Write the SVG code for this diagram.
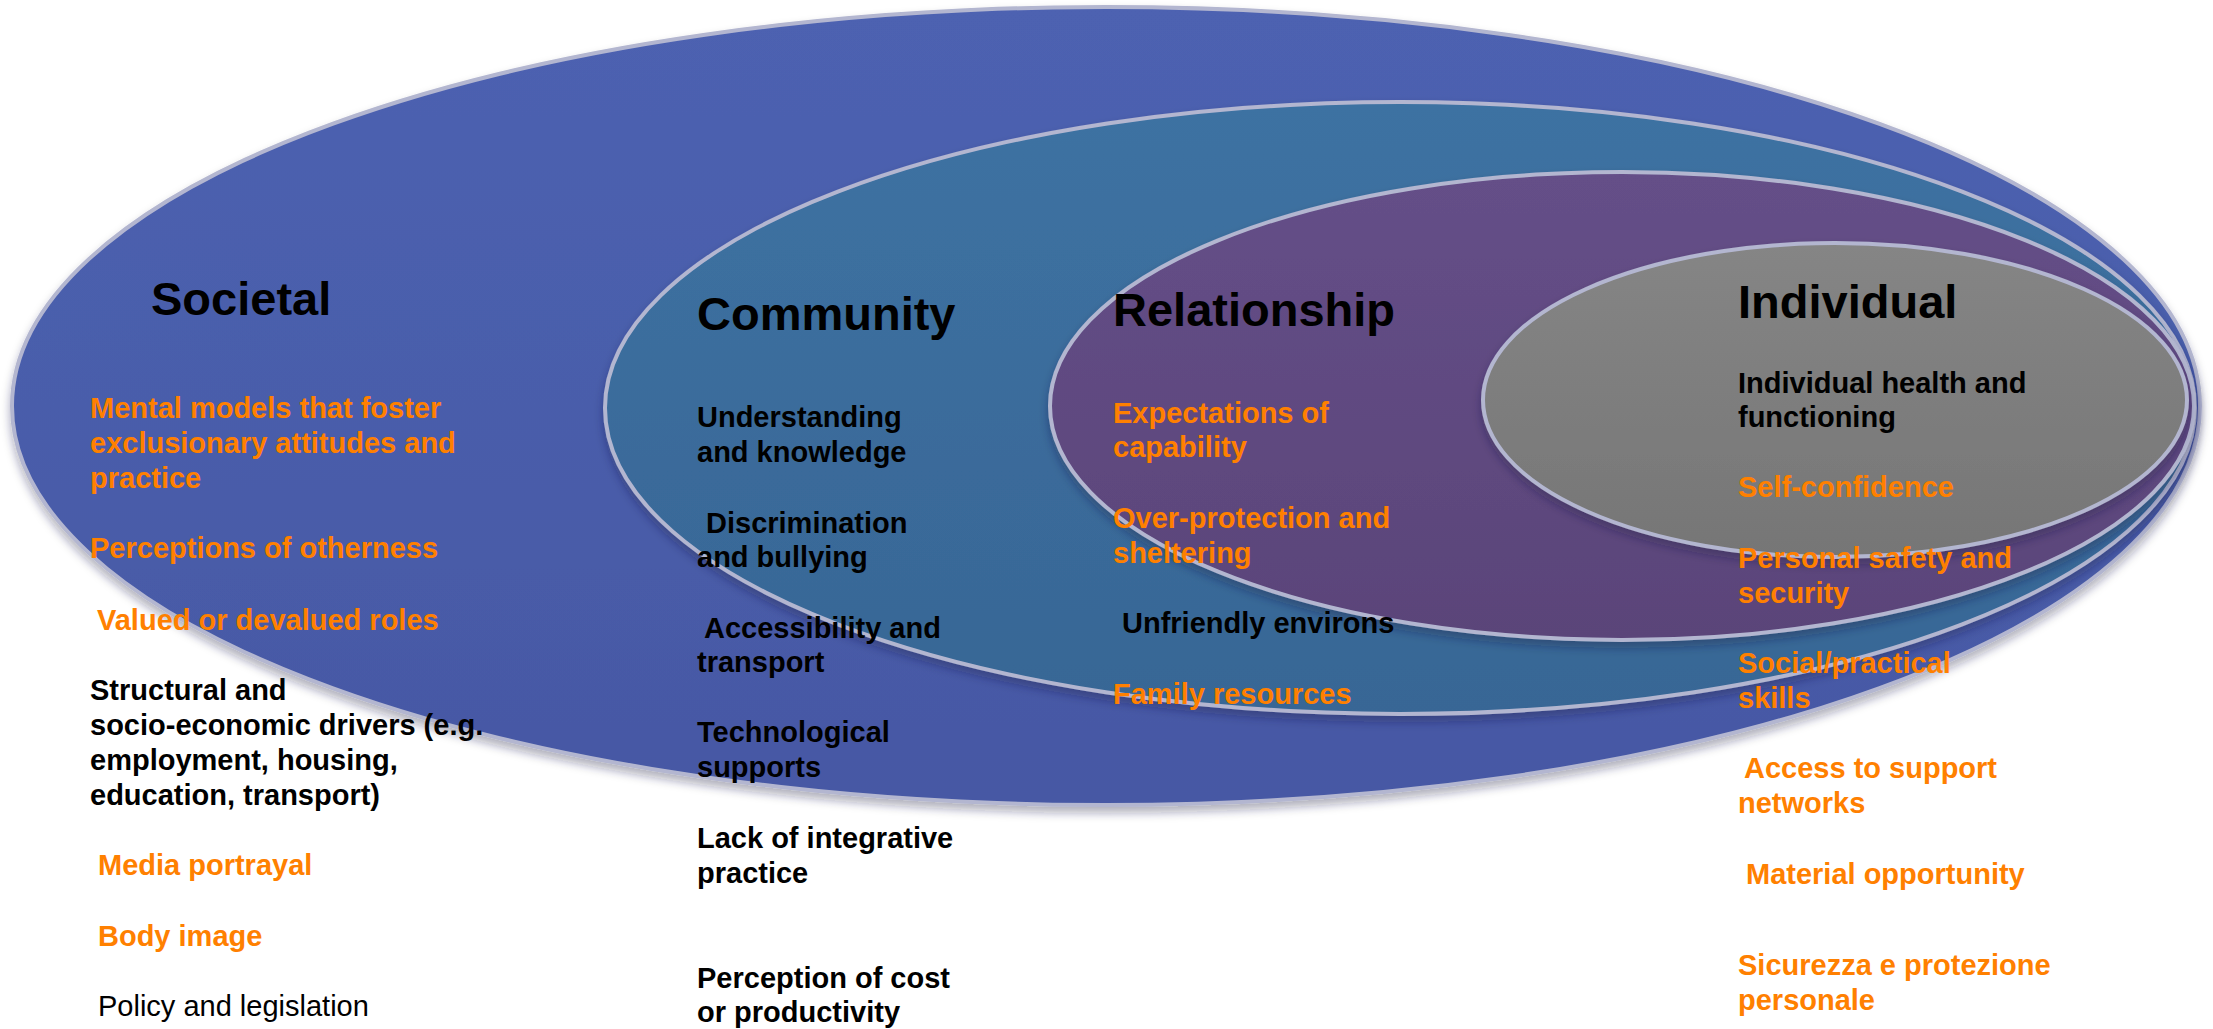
<svg xmlns="http://www.w3.org/2000/svg" width="2213" height="1029" viewBox="0 0 2213 1029">
  <defs>
    <linearGradient id="gSoc" x1="0" y1="0" x2="0" y2="1">
      <stop offset="0" stop-color="#4d62b1"/>
      <stop offset="1" stop-color="#4658a4"/>
    </linearGradient>
    <linearGradient id="gCom" x1="0" y1="0" x2="0" y2="1">
      <stop offset="0" stop-color="#3d72a2"/>
      <stop offset="1" stop-color="#386695"/>
    </linearGradient>
    <linearGradient id="gRel" x1="0" y1="0" x2="0" y2="1">
      <stop offset="0" stop-color="#654f88"/>
      <stop offset="1" stop-color="#5a4479"/>
    </linearGradient>
    <linearGradient id="gInd" x1="0" y1="0" x2="0" y2="1">
      <stop offset="0" stop-color="#858585"/>
      <stop offset="1" stop-color="#767676"/>
    </linearGradient>
    <filter id="soft" x="-5%" y="-5%" width="110%" height="115%">
      <feDropShadow dx="0" dy="6" stdDeviation="5" flood-color="#1a1a40" flood-opacity="0.35"/>
    </filter>
  </defs>
  <style>
    .ring { stroke: #b3b6d0; stroke-width: 4; filter: url(#soft); }
    text { font-family: "Liberation Sans", Arial, sans-serif; }
    .title { font-size: 47px; font-weight: bold; fill: #000; }
    .item { font-size: 29px; font-weight: bold; }
    .org { fill: #ff8000; }
    .blk { fill: #000; }
    .reg { font-weight: normal; }
  </style>

  <rect width="2213" height="1029" fill="#ffffff"/>

  <!-- Outer level: society -->
  <g id="node-societal">
    <ellipse class="ring" cx="1106" cy="406" rx="1094" ry="399" fill="url(#gSoc)"/>
    <text class="title" x="151" y="315">Societal</text>
    <text class="item org" x="90" y="418">Mental models that foster<tspan x="90" dy="35">exclusionary attitudes and</tspan><tspan x="90" dy="35">practice</tspan></text>
    <text class="item org" x="90" y="558">Perceptions of otherness</text>
    <text class="item org" x="97" y="630">Valued or devalued roles</text>
    <text class="item blk" x="90" y="700">Structural and<tspan x="90" dy="35">socio-economic drivers (e.g.</tspan><tspan x="90" dy="35">employment, housing,</tspan><tspan x="90" dy="35">education, transport)</tspan></text>
    <text class="item org" x="98" y="875">Media portrayal</text>
    <text class="item org" x="98" y="946">Body image</text>
    <text class="item blk reg" x="98" y="1016">Policy and legislation</text>
  </g>

  <!-- Community level -->
  <g id="node-community">
    <ellipse class="ring" cx="1400" cy="408" rx="795" ry="306" fill="url(#gCom)"/>
    <text class="title" x="697" y="330">Community</text>
    <text class="item blk" x="697" y="427">Understanding<tspan x="697" dy="35">and knowledge</tspan></text>
    <text class="item blk" x="706" y="533">Discrimination<tspan x="697" dy="34">and bullying</tspan></text>
    <text class="item blk" x="704" y="638">Accessibility and<tspan x="697" dy="34">transport</tspan></text>
    <text class="item blk" x="697" y="742">Technological<tspan x="697" dy="35">supports</tspan></text>
    <text class="item blk" x="697" y="848">Lack of integrative<tspan x="697" dy="35">practice</tspan></text>
    <text class="item blk" x="697" y="988">Perception of cost<tspan x="697" dy="34">or productivity</tspan></text>
  </g>

  <!-- Relationship level -->
  <g id="node-relationship">
    <ellipse class="ring" cx="1622" cy="406" rx="572" ry="234" fill="url(#gRel)"/>
    <text class="title" x="1113" y="326">Relationship</text>
    <text class="item org" x="1113" y="423">Expectations of<tspan x="1113" dy="34">capability</tspan></text>
    <text class="item org" x="1113" y="528">Over-protection and<tspan x="1113" dy="35">sheltering</tspan></text>
    <text class="item blk" x="1122" y="633">Unfriendly environs</text>
    <text class="item org" x="1113" y="704">Family resources</text>
  </g>

  <!-- Individual level -->
  <g id="node-individual">
    <ellipse class="ring" cx="1835" cy="400" rx="352" ry="157" fill="url(#gInd)"/>
    <text class="title" x="1738" y="318">Individual</text>
    <text class="item blk" x="1738" y="393">Individual health and<tspan x="1738" dy="34">functioning</tspan></text>
    <text class="item org" x="1738" y="497">Self-confidence</text>
    <text class="item org" x="1738" y="568">Personal safety and<tspan x="1738" dy="35">security</tspan></text>
    <text class="item org" x="1738" y="673">Social/practical<tspan x="1738" dy="35">skills</tspan></text>
    <text class="item org" x="1744" y="778">Access to support<tspan x="1738" dy="35">networks</tspan></text>
    <text class="item org" x="1746" y="884">Material opportunity</text>
    <text class="item org" x="1738" y="975">Sicurezza e protezione<tspan x="1738" dy="35">personale</tspan></text>
  </g>
</svg>
